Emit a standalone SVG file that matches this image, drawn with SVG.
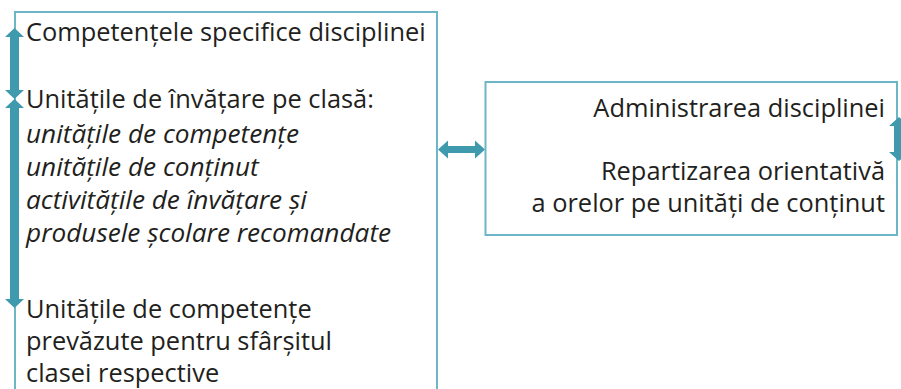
<svg xmlns="http://www.w3.org/2000/svg" width="901" height="389" viewBox="0 0 901 389">
<style>
.box{fill:#ffffff;stroke:#6db6c6;stroke-width:2}
.t{font-family:"Open Sans","Noto Sans",sans-serif;font-size:25.4px;fill:#231f20}
.i{font-style:italic;font-size:26.2px}
.r{text-anchor:end}
.arr{fill:#3f9aad}
</style>
<rect width="901" height="389" fill="#ffffff"/>
<g id="node-left">
<rect class="box" x="15" y="12" width="422" height="420"/>
<text class="t" x="26" y="41">Competențele specifice disciplinei</text>
<text class="t" x="26" y="108">Unitățile de învățare pe clasă:</text>
<text class="t i" x="26" y="143">unitățile de competențe</text>
<text class="t i" x="26" y="176">unitățile de conținut</text>
<text class="t i" x="26" y="209">activitățile de învățare și</text>
<text class="t i" x="26" y="242">produsele școlare recomandate</text>
<text class="t" x="26" y="318">Unitățile de competențe</text>
<text class="t" x="26" y="350">prevăzute pentru sfârșitul</text>
<text class="t" x="26" y="382">clasei respective</text>
</g>
<g id="node-right">
<rect class="box" x="485.5" y="82" width="411.5" height="153"/>
<text class="t r" x="885" y="117">Administrarea disciplinei</text>
<text class="t r" x="885" y="180">Repartizarea orientativă</text>
<text class="t r" x="885" y="212">a orelor pe unități de conținut</text>
</g>
<g id="connectors">
<polygon class="arr" points="14.5,28 24,37 19,37 19,90 24,90 14.5,99 5,90 10,90 10,37 5,37"/>
<polygon class="arr" points="14.5,99 24,108 19,108 19,299 24,299 14.5,308 5,299 10,299 10,108 5,108"/>
<polygon class="arr" points="438,149.5 448,140.5 448,146 475,146 475,140.5 485,149.5 475,158.5 475,153 448,153 448,158.5"/>
<polygon class="arr" points="899,117 909,126 904,126 904,152 909,152 899,161 889,152 894,152 894,126 889,126"/>
</g>
</svg>
